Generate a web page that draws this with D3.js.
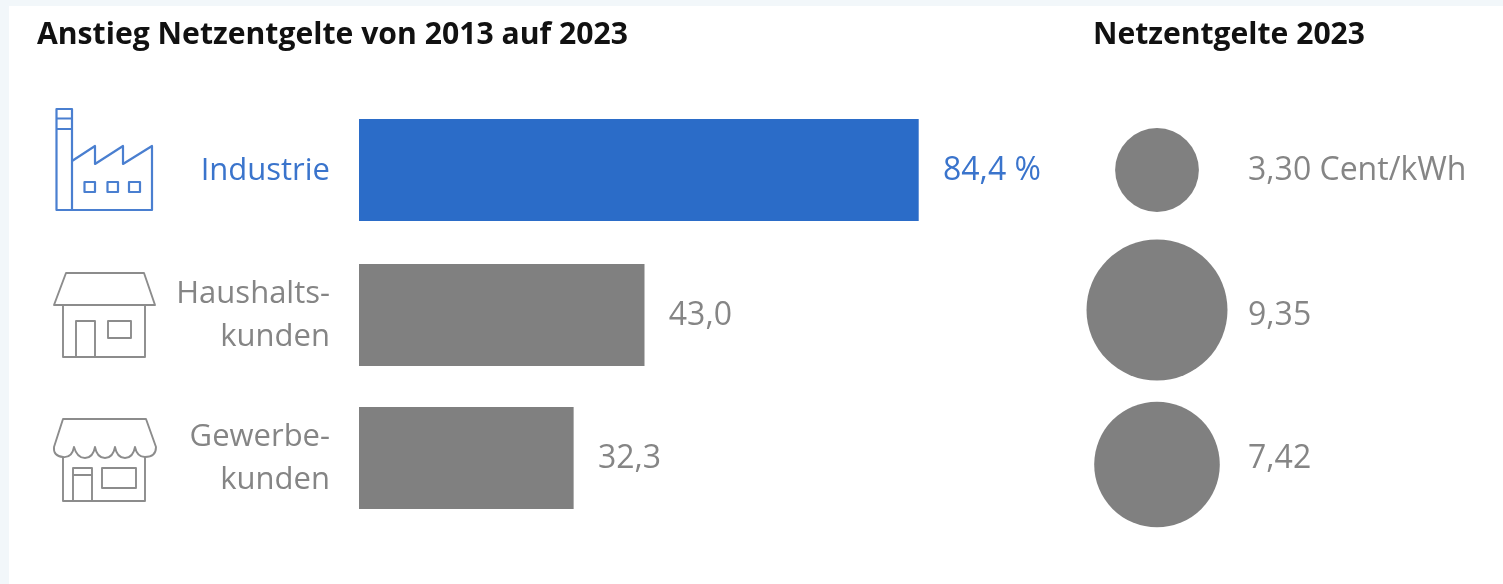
<!DOCTYPE html>
<html><head><meta charset="utf-8">
<script src="https://cdn.jsdelivr.net/npm/d3@7/dist/d3.min.js"></script>
<style>
html,body{margin:0;padding:0;background:#f2f7fa;overflow:hidden}
text{font-family:"Open Sans",sans-serif}
svg{display:block;filter:blur(0.6px)}
</style></head><body>
<script>
const categories = [["Industrie"],["Haushalts-","kunden"],["Gewerbe-","kunden"]];
const risePercent = [84.4,43.0,32.3];
const riseLabels = ["84,4 %","43,0","32,3"];
const fees2023 = [3.30,9.35,7.42];
const feeLabels = ["3,30 Cent/kWh","9,35","7,42"];
const titles = ["Anstieg Netzentgelte von 2013 auf 2023","Netzentgelte 2023"];
const rowKeys = ["industrie","haushalt","gewerbe"];
const BLUE="#2b6cc8", GREY="#808080", TXT="#858585";

const svg=d3.select("body").append("svg").attr("width",1503).attr("height",584);
svg.append("rect").attr("x",9).attr("y",6).attr("width",1494).attr("height",578).attr("fill","#fff");

const x=d3.scaleLinear().domain([0,84.4]).range([359,918]);
const y=d3.scaleOrdinal().domain(rowKeys).range([119,264,407]);
const barH=102;
const r=d3.scaleSqrt().domain([0,9.35]).range([0,70.5]);
const circleY=d3.scaleOrdinal().domain(rowKeys).range([170,310,464.5]);
const rows=rowKeys.map((k,i)=>({k,i,label:categories[i],v:risePercent[i],vl:riseLabels[i],f:fees2023[i],fl:feeLabels[i]}));
const col=d=>d.i===0?BLUE:GREY, tcol=d=>d.i===0?"#3a74cc":TXT;

svg.selectAll(".title").data(titles).join("text").attr("class","title")
 .attr("x",(d,i)=>i?1093:37).attr("y",44).attr("font-size",30).attr("font-weight",700).attr("fill","#111")
 .attr("textLength",(d,i)=>i?272:591).attr("lengthAdjust","spacingAndGlyphs").text(d=>d);

svg.selectAll(".bar").data(rows).join("rect").attr("class","bar")
 .attr("x",x(0)).attr("y",d=>y(d.k)).attr("width",d=>x(d.v)-x(0)+0.7).attr("height",barH).attr("fill",col);

svg.selectAll(".val").data(rows).join("text").attr("class","val")
 .attr("x",d=>x(d.v)+25).attr("y",d=>y(d.k)+barH/2+9.5).attr("font-size",32).attr("fill",tcol).text(d=>d.vl);

const cat=svg.selectAll(".cat").data(rows).join("text").attr("class","cat")
 .attr("text-anchor","end").attr("font-size",31).attr("fill",tcol);
cat.selectAll("tspan").data(d=>d.label.map((t,j)=>({t,j,d}))).join("tspan")
 .attr("x",330).attr("y",c=>{const m=y(c.d.k)+barH/2;return c.d.label.length===1?m+10:m+9.5+(c.j-0.5)*43;}).text(c=>c.t);

svg.selectAll(".dot").data(rows).join("circle").attr("class","dot")
 .attr("cx",1157).attr("cy",d=>circleY(d.k)).attr("r",d=>r(d.f)).attr("fill",GREY);
svg.selectAll(".fee").data(rows).join("text").attr("class","fee")
 .attr("x",1248).attr("y",d=>y(d.k)+barH/2+9.5).attr("font-size",32).attr("fill",TXT).text(d=>d.fl);

// icons
const icon=(color,sw,tx,ty,paths)=>{const g=svg.append("g").attr("transform",`translate(${tx},${ty})`)
 .attr("fill","none").attr("stroke",color).attr("stroke-width",sw).attr("stroke-linejoin","round");
 paths.forEach(p=>g.append("path").attr("d",p));};
icon("#4a7fd0",2.2,40,95,[
 "M16.5 14H32V115H16.5Z","M16.5 23.5H32M16.5 34H32",
 "M32 66L55 51V69L83 51V69L112 51V115H32",
 "M44.5 87H55V97H44.5Z","M67.5 87H78V97H67.5Z","M89 87H100V97H89Z"]);
icon("#8c8c8c",1.9,40,260,[
 "M26 13H104L115 45H14Z","M23 46V97H105V46",
 "M36 97V61H55V97","M68 61H91V78H68Z"]);
icon("#8c8c8c",1.9,40,405,[
 "M23 14H106L116 42Q116 52 105 52Q97 52 95 42Q93 53 85 53Q77 53 75 42Q73 53 65 53Q57 53 55 42Q53 53 45 53Q37 53 34 42Q32 53 23 52Q13 51 14 42Z",
 "M23 52V96H105V52",
 "M33 96V63H52V96M33 70H52","M62 63H96V83H62Z"]);
</script>
</body></html>
